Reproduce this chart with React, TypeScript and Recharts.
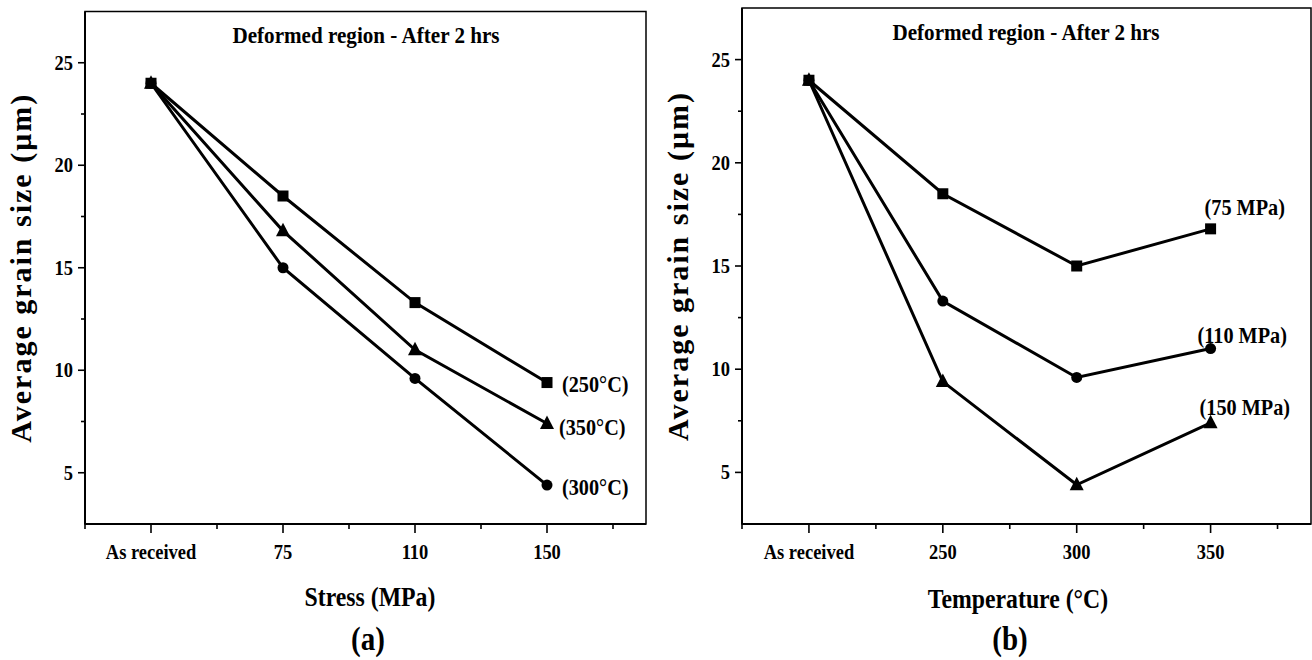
import { LabelList, Line, LineChart, ReferenceArea, XAxis, YAxis } from "recharts";

// panel (a): grain size vs stress, one line per temperature
const stressCategories = ["As received", "75", "110", "150"];
const grain250C = [24, 18.5, 13.3, 9.4];
const grain300C = [24, 15.0, 9.6, 4.4];
const grain350C = [24, 16.8, 11.0, 7.4];

// panel (b): grain size vs temperature, one line per stress
const temperatureCategories = ["As received", "250", "300", "350"];
const grain75MPa = [24, 18.5, 15.0, 16.8];
const grain110MPa = [24, 13.3, 9.6, 11.0];
const grain150MPa = [24, 9.4, 4.4, 7.4];

const yMajorTicks = [5, 10, 15, 20, 25];
const yMinorTicks = [7.5, 12.5, 17.5, 22.5];
const xMinorTicks = [0.5, 1.5, 2.5, 3.5, 4.5];

const FONT = '"Liberation Serif", "Times New Roman", serif';
const SX = 0.88; // the figure's text is a little condensed

type Shape = "square" | "circle" | "triangle";

interface SeriesDef {
  key: string;
  label: string;
  values: number[];
  shape: Shape;
  labelDx: number;
  labelDy: number;
}

function SText({ x, y, size, anchor = "start", children }: any) {
  return (
    <text
      transform={`translate(${x},${y}) scale(${SX},1)`}
      textAnchor={anchor}
      fontFamily={FONT}
      fontWeight="bold"
      fontSize={size}
      fill="#000"
    >
      {children}
    </text>
  );
}

function Marker({ cx, cy, shape }: { cx?: number; cy?: number; shape: Shape }) {
  if (cx == null || cy == null) return null;
  if (shape === "square") return <rect x={cx - 5.5} y={cy - 5.5} width={11} height={11} fill="#000" />;
  if (shape === "circle") return <circle cx={cx} cy={cy} r={5.5} fill="#000" />;
  return <polygon points={`${cx},${cy - 8} ${cx - 7},${cy + 5.5} ${cx + 7},${cy + 5.5}`} fill="#000" />;
}

function XTick({ x, y, payload, categories }: any) {
  const v = payload.value as number;
  const major = Number.isInteger(v);
  return (
    <g>
      <line x1={x} x2={x} y1={y} y2={y + (major ? 9 : 5)} stroke="#000" strokeWidth={1.6} />
      {major && (
        <SText x={x} y={y + 35} size={21} anchor="middle">
          {categories[v - 1]}
        </SText>
      )}
    </g>
  );
}

function YTick({ x, y, payload }: any) {
  const v = payload.value as number;
  const major = Number.isInteger(v);
  return (
    <g>
      <line x1={x - (major ? 7 : 4)} x2={x} y1={y} y2={y} stroke="#000" strokeWidth={1.6} />
      {major && (
        <SText x={x - 12} y={y + 7} size={21} anchor="end">
          {v}
        </SText>
      )}
    </g>
  );
}

interface PanelProps {
  categories: string[];
  series: SeriesDef[];
  xTitle: string;
  letter: string;
  left: number;
  width: number;
  top: number;
  right: number;
  yAxisWidth: number;
  titleX: number;
  titleY: number;
  xTitleX: number;
  xTitleY: number;
  letterX: number;
  yTitleX: number;
}

function Panel(p: PanelProps) {
  const data = p.categories.map((c, i) => {
    const row: Record<string, number | string> = { x: i + 1, category: c };
    p.series.forEach((s) => {
      row[s.key] = s.values[i];
    });
    return row;
  });
  const xTicks = [...xMinorTicks, ...p.categories.map((_, i) => i + 1)].sort((a, b) => a - b);
  const yTicks = [...yMajorTicks, ...yMinorTicks].sort((a, b) => a - b);
  const plotTop = p.top;
  const plotBottom = 660 - 136;
  const yMid = (plotTop + plotBottom) / 2;
  const last = p.categories.length - 1;

  return (
    <div style={{ position: "absolute", left: p.left, top: 0 }}>
      <LineChart
        width={p.width}
        height={660}
        data={data}
        margin={{ top: p.top, right: p.right, left: 0, bottom: 0 }}
      >
        <XAxis
          type="number"
          dataKey="x"
          domain={[0.5, 4.75]}
          ticks={xTicks}
          interval={0}
          height={136}
          tickSize={0}
          tickMargin={0}
          tickLine={false}
          axisLine={{ stroke: "#000", strokeWidth: 2 }}
          tick={(t: any) => <XTick {...t} categories={p.categories} />}
        />
        <YAxis
          type="number"
          domain={[2.5, 27.5]}
          ticks={yTicks}
          interval={0}
          width={p.yAxisWidth}
          tickSize={0}
          tickMargin={0}
          tickLine={false}
          axisLine={{ stroke: "#000", strokeWidth: 2 }}
          tick={(t: any) => <YTick {...t} />}
        />
        <ReferenceArea
          x1={0.5}
          x2={4.75}
          y1={2.5}
          y2={27.5}
          fill="none"
          fillOpacity={0}
          stroke="#000"
          strokeWidth={1.5}
        />
        {p.series.map((s) => (
          <Line
            key={s.key}
            dataKey={s.key}
            stroke="#000"
            strokeWidth={3}
            isAnimationActive={false}
            activeDot={false}
            dot={(d: any) => <Marker key={`${s.key}-${d.index}`} cx={d.cx} cy={d.cy} shape={s.shape} />}
          >
            <LabelList
              dataKey={s.key}
              content={(l: any) => {
                if (l.index !== last) return null;
                const lx = l.x ?? l.viewBox?.x;
                const ly = l.y ?? l.viewBox?.y;
                return (
                  <SText key={`${s.key}-lbl`} x={lx + s.labelDx} y={ly + s.labelDy} size={23}>
                    {s.label}
                  </SText>
                );
              }}
            />
          </Line>
        ))}
        <SText x={p.titleX} y={p.titleY} size={24} anchor="middle">
          Deformed region - After 2 hrs
        </SText>
        <SText x={p.xTitleX} y={p.xTitleY} size={27} anchor="middle">
          {p.xTitle}
        </SText>
        <SText x={p.letterX} y={650} size={33} anchor="middle">
          {p.letter}
        </SText>
        <text
          transform={`translate(${p.yTitleX},${yMid}) rotate(-90)`}
          textAnchor="middle"
          fontFamily={FONT}
          fontWeight="bold"
          fontSize={30}
          letterSpacing={2}
          fill="#000"
        >
          Average grain size (μm)
        </text>
      </LineChart>
    </div>
  );
}

const stressSeries: SeriesDef[] = [
  { key: "t250", label: "(250°C)", values: grain250C, shape: "square", labelDx: 15, labelDy: 9 },
  { key: "t350", label: "(350°C)", values: grain350C, shape: "triangle", labelDx: 12, labelDy: 11 },
  { key: "t300", label: "(300°C)", values: grain300C, shape: "circle", labelDx: 15, labelDy: 10 },
];

const temperatureSeries: SeriesDef[] = [
  { key: "m75", label: "(75 MPa)", values: grain75MPa, shape: "square", labelDx: -6, labelDy: -14 },
  { key: "m110", label: "(110 MPa)", values: grain110MPa, shape: "circle", labelDx: -13, labelDy: -6 },
  { key: "m150", label: "(150 MPa)", values: grain150MPa, shape: "triangle", labelDx: -11, labelDy: -8 },
];

export default function App() {
  return (
    <div style={{ position: "absolute", left: 0, top: 0, width: 1312, height: 660, background: "#fff" }}>
      <Panel
        categories={stressCategories}
        series={stressSeries}
        xTitle="Stress (MPa)"
        letter="(a)"
        left={0}
        width={660}
        top={11.5}
        right={14}
        yAxisWidth={85}
        titleX={366}
        titleY={43}
        xTitleX={370}
        xTitleY={606}
        letterX={368}
        yTitleX={31}
      />
      <Panel
        categories={temperatureCategories}
        series={temperatureSeries}
        xTitle="Temperature (°C)"
        letter="(b)"
        left={656}
        width={656}
        top={8}
        right={1}
        yAxisWidth={86}
        titleX={370}
        titleY={39.5}
        xTitleX={362}
        xTitleY={608}
        letterX={354}
        yTitleX={32}
      />
    </div>
  );
}
